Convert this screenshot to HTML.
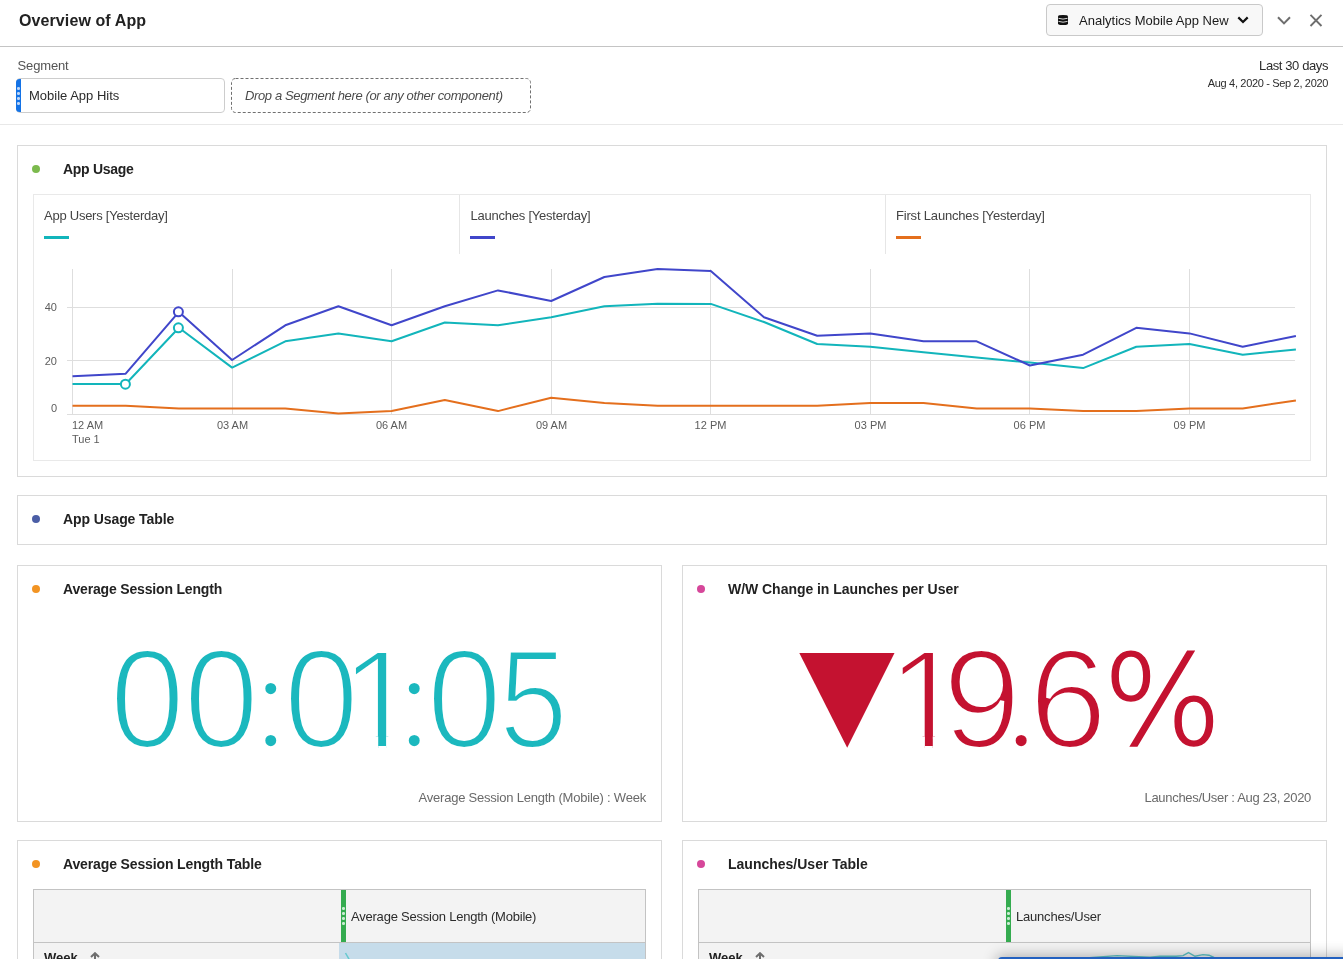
<!DOCTYPE html>
<html><head><meta charset="utf-8"><title>Overview of App</title>
<style>
*{box-sizing:border-box;margin:0;padding:0}
html,body{width:1343px;height:959px;overflow:hidden;background:#fff}
body{position:relative;font-family:"Liberation Sans",Arial,sans-serif;color:#2c2c2c}
.root{position:absolute;left:0;top:0;width:1343px;height:959px;will-change:transform}
.a{position:absolute;line-height:1;white-space:nowrap}
.hl{position:absolute;left:0;width:1343px;height:1px;background:#c4c4c4}
.r13{font-size:13px;letter-spacing:-0.3px}
.b14{font-size:14px;font-weight:bold;color:#222}
.panel{position:absolute;border:1px solid #dadada;background:#fff}
.dot{position:absolute;width:8px;height:8px;border-radius:50%}
.grey{color:#444}
.big{position:absolute;font-size:141.4px;line-height:1;font-family:"Liberation Sans",Arial,sans-serif;-webkit-text-stroke:4.2px #fff;white-space:nowrap}
.ser{font-family:"Liberation Serif",serif;-webkit-text-stroke:5.6px #fff}
</style></head>
<body>
<div class="root">
<!-- header -->
<div class="a" style="left:19px;top:13px;font-size:16px;font-weight:bold;color:#222;letter-spacing:0.1px">Overview of App</div>
<div style="position:absolute;left:1046px;top:4px;width:217px;height:32px;border:1px solid #c9c9c9;border-radius:4px;background:#f8f8f8"></div>
<svg style="position:absolute;left:1058px;top:14.7px" width="10" height="10.2" viewBox="0 0 10 10.2">
  <path d="M0 1.5 A5 1.5 0 0 1 10 1.5 V8.6 A5 1.6 0 0 1 0 8.6Z" fill="#111"/>
  <path d="M0.5 3.3 Q5 4.9 9.5 3.3" fill="none" stroke="#f8f8f8" stroke-width="0.85"/>
  <path d="M0.5 6.4 Q5 8.0 9.5 6.4" fill="none" stroke="#f8f8f8" stroke-width="0.85"/>
</svg>
<div class="a r13" style="left:1079px;top:14px;color:#1a1a1a;letter-spacing:0">Analytics Mobile App New</div>
<svg style="position:absolute;left:1237px;top:16px" width="12" height="8" viewBox="0 0 12 8"><path d="M1.3 1.4 L6 6 L10.7 1.4" fill="none" stroke="#111" stroke-width="2.2"/></svg>
<svg style="position:absolute;left:1277px;top:16px" width="14" height="9" viewBox="0 0 14 9"><path d="M1 1.2 L7 7.4 L13 1.2" fill="none" stroke="#6e6e6e" stroke-width="2"/></svg>
<svg style="position:absolute;left:1309px;top:14px" width="14" height="13" viewBox="0 0 14 13"><path d="M1.5 0.8 L12.5 12 M12.5 0.8 L1.5 12" fill="none" stroke="#6e6e6e" stroke-width="1.9"/></svg>
<div class="hl" style="top:46px"></div>

<!-- segment row -->
<div class="a r13" style="left:17.6px;top:59px;letter-spacing:-0.15px;color:#555">Segment</div>
<div style="position:absolute;left:16px;top:78px;width:209px;height:35px;border:1px solid #cdcdcd;border-radius:4px;background:#fff"></div>
<div style="position:absolute;left:16px;top:79px;width:5px;height:33px;border-radius:3.5px 0 0 3.5px;background:#1473e6"></div>
<div style="position:absolute;left:17.2px;top:87.2px;width:2.6px;height:2.6px;border-radius:50%;background:#bcd5f7;box-shadow:0 5px 0 #bcd5f7,0 10px 0 #bcd5f7,0 15px 0 #bcd5f7"></div>
<div class="a r13" style="left:29px;top:89px;color:#2c2c2c;letter-spacing:0px">Mobile App Hits</div>
<svg style="position:absolute;left:231px;top:78px" width="300" height="35" viewBox="0 0 300 35"><rect x="0.5" y="0.5" width="299" height="34" rx="4" fill="none" stroke="#707070" stroke-width="1" stroke-dasharray="3 2"/></svg>
<div class="a" style="left:245px;top:89px;font-size:13px;font-style:italic;letter-spacing:-0.37px;color:#4b4b4b">Drop a Segment here (or any other component)</div>
<div class="a" style="right:15px;top:59px;font-size:13px;letter-spacing:-0.4px;color:#2c2c2c">Last 30 days</div>
<div class="a" style="right:15px;top:77.5px;font-size:11px;letter-spacing:-0.33px;color:#2c2c2c">Aug 4, 2020 - Sep 2, 2020</div>
<div class="hl" style="top:124px;background:#e8e8e8"></div>

<!-- Panel 1: App Usage -->
<div class="panel" style="left:17px;top:145px;width:1310px;height:332px"></div>
<div class="dot" style="left:31.5px;top:164.5px;background:#7cba4d"></div>
<div class="a b14" style="left:63px;top:162px;letter-spacing:-0.29px">App Usage</div>
<div style="position:absolute;left:33px;top:194px;width:1278px;height:267px;border:1px solid #e9e9e9"></div>
<div style="position:absolute;left:459px;top:195px;width:1px;height:59px;background:#e6e6e6"></div>
<div style="position:absolute;left:885px;top:195px;width:1px;height:59px;background:#e6e6e6"></div>
<div class="a r13 grey" style="left:44px;top:209px;letter-spacing:-0.25px">App Users [Yesterday]</div>
<div class="a r13 grey" style="left:470.5px;top:209px;letter-spacing:-0.23px">Launches [Yesterday]</div>
<div class="a r13 grey" style="left:896px;top:209px;letter-spacing:-0.18px">First Launches [Yesterday]</div>
<div style="position:absolute;left:44px;top:236px;width:25px;height:3px;background:#12b5bb"></div>
<div style="position:absolute;left:470px;top:236px;width:25px;height:3px;background:#4046ca"></div>
<div style="position:absolute;left:896px;top:236px;width:25px;height:3px;background:#e46f1d"></div>

<svg style="position:absolute;left:0;top:0" width="1343" height="959" viewBox="0 0 1343 959">
  <g stroke="#dedede" stroke-width="1" fill="none">
    <path d="M72.5 269V414 M232.5 269V414 M391.5 269V414 M551.5 269V414 M710.5 269V414 M870.5 269V414 M1029.5 269V414 M1189.5 269V414"/>
    <path d="M67 307.5H1295 M67 360.5H1295 M67 414.5H1295"/>
  </g>
  <g font-family="Liberation Sans, Arial, sans-serif" font-size="11" fill="#5c5c5c">
    <text x="57" y="311" text-anchor="end">40</text>
    <text x="57" y="365" text-anchor="end">20</text>
    <text x="57" y="412" text-anchor="end">0</text>
    <text x="72" y="428.5">12 AM</text>
    <text x="72" y="443.2">Tue 1</text>
    <text x="232.5" y="428.5" text-anchor="middle">03 AM</text>
    <text x="391.5" y="428.5" text-anchor="middle">06 AM</text>
    <text x="551.5" y="428.5" text-anchor="middle">09 AM</text>
    <text x="710.5" y="428.5" text-anchor="middle">12 PM</text>
    <text x="870.5" y="428.5" text-anchor="middle">03 PM</text>
    <text x="1029.5" y="428.5" text-anchor="middle">06 PM</text>
    <text x="1189.5" y="428.5" text-anchor="middle">09 PM</text>
  </g>
  <g fill="none" stroke-width="2" stroke-linejoin="round">
    <polyline stroke="#e46f1d" points="72.5,405.8 125.7,405.8 178.9,408.4 232.1,408.4 285.3,408.4 338.4,413.4 391.6,411.0 444.8,400.0 498.0,411.1 551.2,397.7 604.4,403.0 657.6,405.8 710.8,405.8 764.0,405.8 817.2,405.8 870.3,403.0 923.5,403.0 976.7,408.4 1029.9,408.4 1083.1,411.1 1136.3,411.1 1189.5,408.4 1242.7,408.4 1295.9,400.5"/>
    <polyline stroke="#12b5bb" points="72.5,384.0 125.7,384.0 178.9,327.8 232.1,367.6 285.3,341.3 338.4,333.4 391.6,341.3 444.8,322.5 498.0,325.3 551.2,317.2 604.4,306.3 657.6,303.8 710.8,303.9 764.0,322.0 817.2,344.0 870.3,346.8 923.5,352.2 976.7,357.5 1029.9,362.5 1083.1,368.1 1136.3,346.8 1189.5,344.0 1242.7,354.7 1295.9,349.4"/>
    <polyline stroke="#4046ca" points="72.5,376.2 125.7,373.7 178.9,311.9 232.1,360.0 285.3,325.3 338.4,306.3 391.6,325.3 444.8,306.3 498.0,290.4 551.2,301.0 604.4,277.0 657.6,268.9 710.8,271.1 764.0,317.2 817.2,335.7 870.3,333.4 923.5,341.3 976.7,341.3 1029.9,365.5 1083.1,354.7 1136.3,327.8 1189.5,333.4 1242.7,346.8 1295.9,336.0"/>
    <circle cx="125.4" cy="384.2" r="4.5" fill="#fff" stroke="#12b5bb"/>
    <circle cx="178.4" cy="327.8" r="4.5" fill="#fff" stroke="#12b5bb"/>
    <circle cx="178.4" cy="311.8" r="4.5" fill="#fff" stroke="#4046ca"/>
  </g>
</svg>

<!-- Panel 2: App Usage Table -->
<div class="panel" style="left:17px;top:495px;width:1310px;height:50px"></div>
<div class="dot" style="left:31.5px;top:514.5px;background:#4b5ea6"></div>
<div class="a b14" style="left:63px;top:511.5px;letter-spacing:-0.09px">App Usage Table</div>

<!-- Panel 3 -->
<div class="panel" style="left:17px;top:565px;width:645px;height:257px"></div>
<div class="dot" style="left:31.5px;top:584.5px;background:#f29423"></div>
<div class="a b14" style="left:63px;top:581.6px;letter-spacing:-0.17px">Average Session Length</div>
<div><span class="big" style="left:108.10px;top:629px;color:#1bb8be;transform:scaleX(0.955);transform-origin:39.5px 50%">0</span><span class="big" style="left:181.75px;top:629px;color:#1bb8be;transform:scaleX(0.955);transform-origin:39.5px 50%">0</span><span class="big ser" style="left:251.35px;top:629px;color:#1bb8be">:</span><span class="big" style="left:281.50px;top:629px;color:#1bb8be;transform:scaleX(0.955);transform-origin:39.5px 50%">0</span><span class="big" style="left:340.30px;top:629px;color:#1bb8be;clip-path:polygon(0 0,100% 0,100% 107.5px,45.8px 107.5px,45.8px 100%,37.9px 100%,37.9px 107.5px,0 107.5px)">1</span><span class="big ser" style="left:394.65px;top:629px;color:#1bb8be">:</span><span class="big" style="left:424.50px;top:629px;color:#1bb8be;transform:scaleX(0.955);transform-origin:39.5px 50%">0</span><span class="big" style="left:494.25px;top:629px;color:#1bb8be;transform:scaleX(0.88);transform-origin:39.5px 50%">5</span></div>

<div class="a r13" style="right:697px;top:791px;color:#6a6a6a;letter-spacing:-0.22px">Average Session Length (Mobile) : Week</div>

<!-- Panel 4 -->
<div class="panel" style="left:682px;top:565px;width:645px;height:257px"></div>
<div class="dot" style="left:696.5px;top:584.5px;background:#d6479a"></div>
<div class="a b14" style="left:728px;top:581.6px;letter-spacing:-0.04px">W/W Change in Launches per User</div>
<svg style="position:absolute;left:799px;top:652px" width="96" height="96" viewBox="0 0 96 96"><path d="M0.3 0.9 H95.5 L48.2 95.8Z" fill="#c41230"/></svg>
<div><span class="big" style="left:887.00px;top:629px;color:#c41230;clip-path:polygon(0 0,100% 0,100% 107.5px,45.8px 107.5px,45.8px 100%,37.9px 100%,37.9px 107.5px,0 107.5px)">1</span><span class="big" style="left:942.60px;top:629px;color:#c41230">9</span><span class="big ser" style="left:1003.60px;top:629px;color:#c41230">.</span><span class="big" style="left:1028.85px;top:629px;color:#c41230">6</span><span class="big" style="left:1103.1px;top:638px;font-family:'DejaVu Sans',sans-serif;font-weight:200;font-size:125px;-webkit-text-stroke:1.5px #c41230;color:#c41230">%</span></div>

<div class="a r13" style="right:32px;top:791px;color:#6a6a6a">Launches/User : Aug 23, 2020</div>

<!-- Panel 5 -->
<div class="panel" style="left:17px;top:840px;width:645px;height:130px"></div>
<div class="dot" style="left:31.5px;top:859.5px;background:#f29423"></div>
<div class="a b14" style="left:63px;top:856.7px;letter-spacing:-0.13px">Average Session Length Table</div>
<div style="position:absolute;left:33px;top:889px;width:613px;height:80px;border:1px solid #c3c3c3;background:#f3f3f3"></div>
<div style="position:absolute;left:34px;top:942px;width:611px;height:1px;background:#c3c3c3"></div>
<div style="position:absolute;left:339px;top:943px;width:306px;height:20px;background:#c6dcea"></div>
<div style="position:absolute;left:341px;top:890px;width:5px;height:52px;background:#34ab4f"></div>
<div style="position:absolute;left:342.3px;top:907.2px;width:2.4px;height:2.4px;border-radius:50%;background:#c9ecd2;box-shadow:0 5px 0 #c9ecd2,0 10px 0 #c9ecd2,0 15px 0 #c9ecd2"></div>
<div class="a r13" style="left:351px;top:910px;color:#2c2c2c;letter-spacing:-0.22px">Average Session Length (Mobile)</div>
<div class="a" style="left:44px;top:951px;font-size:13px;font-weight:bold;color:#222">Week</div>
<svg style="position:absolute;left:90px;top:952px" width="10" height="7" viewBox="0 0 10 7"><path d="M1 5 L5 1.2 L9 5 M5 1.2 V7" fill="none" stroke="#6e6e6e" stroke-width="2"/></svg>
<div class="a" style="right:704px;top:956.5px;font-size:13px;font-weight:bold;color:#222;letter-spacing:-0.5px">00:01:05</div>
<svg style="position:absolute;left:339px;top:943px" width="306" height="16"><path d="M6.5 10 L10.2 16.5" stroke="#66cad0" stroke-width="1.5" fill="none"/></svg>

<!-- Panel 6 -->
<div class="panel" style="left:682px;top:840px;width:645px;height:130px"></div>
<div class="dot" style="left:696.5px;top:859.5px;background:#d6479a"></div>
<div class="a b14" style="left:728px;top:856.7px">Launches/User Table</div>
<div style="position:absolute;left:698px;top:889px;width:613px;height:80px;border:1px solid #c3c3c3;background:#f3f3f3"></div>
<div style="position:absolute;left:699px;top:942px;width:611px;height:1px;background:#c3c3c3"></div>
<div style="position:absolute;left:1006px;top:890px;width:5px;height:52px;background:#34ab4f"></div>
<div style="position:absolute;left:1007.3px;top:907.2px;width:2.4px;height:2.4px;border-radius:50%;background:#c9ecd2;box-shadow:0 5px 0 #c9ecd2,0 10px 0 #c9ecd2,0 15px 0 #c9ecd2"></div>
<div class="a r13" style="left:1016px;top:910px;color:#2c2c2c;letter-spacing:-0.2px">Launches/User</div>
<div class="a" style="left:709px;top:951px;font-size:13px;font-weight:bold;color:#222">Week</div>
<svg style="position:absolute;left:755px;top:952px" width="10" height="7" viewBox="0 0 10 7"><path d="M1 5 L5 1.2 L9 5 M5 1.2 V7" fill="none" stroke="#6e6e6e" stroke-width="2"/></svg>

<svg style="position:absolute;left:0;top:0" width="1343" height="959"><polyline points="1086,958 1117,955.6 1150,957.2 1160,956.2 1176,956.2 1183,955.6 1188.5,952.6 1195,956.3 1203,954.6 1209,955.2 1214,957.5" fill="none" stroke="#5cc3c6" stroke-width="1.4"/></svg>
<!-- toast at bottom -->
<div style="position:absolute;left:998px;top:957px;width:400px;height:40px;background:#2361c0;border-radius:4px;box-shadow:0 0 14px 2px rgba(0,0,0,0.28)"></div>
</div>
</body></html>
